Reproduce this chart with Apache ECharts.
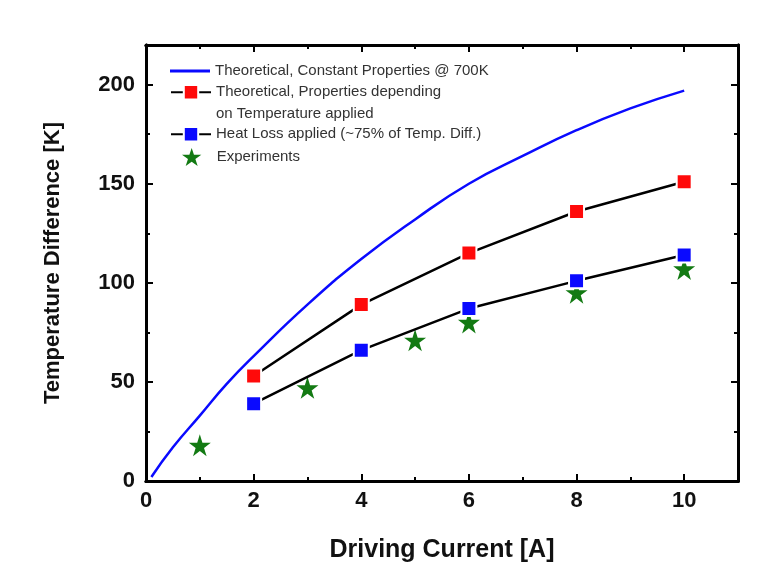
<!DOCTYPE html>
<html>
<head>
<meta charset="utf-8">
<script src="https://cdn.jsdelivr.net/npm/echarts@6/dist/echarts.min.js"></script>
<style>html,body{margin:0;padding:0;background:#fff}#c{width:767px;height:583px}</style>
</head>
<body>
<div id="c"></div>
<script>
// ---- data ----
const seriesNames = [
  'Theoretical, Constant Properties @ 700K',
  'Theoretical, Properties depending on Temperature applied',
  'Heat Loss applied (~75% of Temp. Diff.)',
  'Experiments'
];
const curveX = [0.1, 0.5, 1, 1.5, 2, 3, 4, 5, 6, 7, 8, 9, 10];
const curveY = [2, 17, 33, 49, 63, 89, 112, 132, 150, 164, 177, 188, 197];
const propX = [2, 4, 6, 8, 10];
const propY = [53, 89, 115, 136, 151];
const lossX = [2, 4, 6, 8, 10];
const lossY = [39, 66, 87, 101, 114];
const expX = [1, 3, 5, 6, 8, 10];
const expY = [18, 47, 71, 80, 95, 107];
const xTitle = 'Driving Current [A]';
const yTitle = 'Temperature Difference [K]';

const zip = (a, b) => a.map((v, i) => [v, b[i]]);
const FONT = 'Liberation Sans, Arial, sans-serif';
const STAR = 'path://M50,0 L61.8,35.5 L100,35.5 L69.1,57.4 L80.9,93 L50,71 L19.1,93 L30.9,57.4 L0,35.5 L38.2,35.5 Z';
const BLUE = '#0a0aff', RED = '#ff0a0a', GREEN = '#137a13';

const chart = echarts.init(document.getElementById('c'));
const baseAxis = (o) => Object.assign({
  type: 'value',
  axisLine: { show: true, onZero: false, lineStyle: { color: '#000', width: 3 } },
  axisTick: { show: true, inside: true, length: 7, lineStyle: { color: '#000', width: 2 } },
  splitLine: { show: false },
  axisLabel: { show: false }
}, o);
const minorTick = { show: true, inside: true, length: 4, lineStyle: { color: '#000', width: 2 } };

const xMain = { min: 0, max: 11, interval: 2 };
const xMinor = { min: 0, max: 11, interval: 1 };
const yMain = { min: 0, max: 220, interval: 50 };
const yMinor = { min: 0, max: 220, interval: 25 };

const legendBase = {
  orient: 'vertical', itemWidth: 40, itemHeight: 18, padding: 0,
  textStyle: { fontFamily: FONT, fontSize: 15, color: '#333' }
};

const option = {
  animation: false,
  backgroundColor: '#fff',
  grid: { left: 146, right: 29, top: 45, bottom: 102, containLabel: false },
  xAxis: [
    baseAxis(Object.assign({}, xMain, {
      position: 'bottom',
      name: xTitle, nameLocation: 'middle', nameGap: 57,
      nameTextStyle: { fontFamily: FONT, fontWeight: 'bold', fontSize: 25, color: '#111' },
      axisLabel: { show: true, margin: 9, showMaxLabel: false, fontFamily: FONT, fontWeight: 'bold', fontSize: 22, color: '#111' }
    })),
    baseAxis(Object.assign({}, xMinor, { position: 'bottom', axisTick: minorTick })),
    baseAxis(Object.assign({}, xMain, { position: 'top' })),
    baseAxis(Object.assign({}, xMinor, { position: 'top', axisTick: minorTick }))
  ],
  yAxis: [
    baseAxis(Object.assign({}, yMain, {
      position: 'left',
      name: yTitle, nameLocation: 'middle', nameGap: 82, nameRotate: 90,
      nameTextStyle: { fontFamily: FONT, fontWeight: 'bold', fontSize: 22, color: '#111' },
      axisLabel: { show: true, margin: 11, showMaxLabel: false, fontFamily: FONT, fontWeight: 'bold', fontSize: 22, color: '#111' }
    })),
    baseAxis(Object.assign({}, yMinor, { position: 'left', axisTick: minorTick })),
    baseAxis(Object.assign({}, yMain, { position: 'right' })),
    baseAxis(Object.assign({}, yMinor, { position: 'right', axisTick: minorTick }))
  ],
  legend: [
    Object.assign({}, legendBase, { data: [{ name: seriesNames[0], icon: 'rect' }], left: 170, top: 63.5, itemHeight: 3 }),
    Object.assign({}, legendBase, { data: [seriesNames[1]], left: 170, top: 84, formatter: () => 'Theoretical, Properties depending' }),
    Object.assign({}, legendBase, { data: [seriesNames[2]], left: 170, top: 126 }),
    Object.assign({}, legendBase, { data: [seriesNames[3]], left: 182, top: 148 })
  ],
  graphic: [{
    type: 'text', left: 216, top: 106,
    style: { text: 'on Temperature applied', font: '15px ' + FONT, fill: '#333' }
  }],
  series: [
    {
      name: seriesNames[0], type: 'line', smooth: true, showSymbol: false, symbol: 'none',
      data: zip(curveX, curveY), lineStyle: { color: BLUE, width: 2.5 }, itemStyle: { color: BLUE }
    },
    {
      name: seriesNames[1], type: 'line', data: zip(propX, propY),
      symbol: 'rect', symbolSize: 15,
      lineStyle: { color: '#000', width: 2.5 },
      itemStyle: { color: RED, borderColor: '#fff', borderWidth: 2 }
    },
    {
      name: seriesNames[2], type: 'line', data: zip(lossX, lossY),
      symbol: 'rect', symbolSize: 15,
      lineStyle: { color: '#000', width: 2.5 },
      itemStyle: { color: BLUE, borderColor: '#fff', borderWidth: 2 }
    },
    {
      name: seriesNames[3], type: 'scatter', data: zip(expX, expY),
      symbol: STAR, symbolSize: 22,
      itemStyle: { color: GREEN, opacity: 1 }
    }
  ]
};
chart.setOption(option);
</script>
</body>
</html>
